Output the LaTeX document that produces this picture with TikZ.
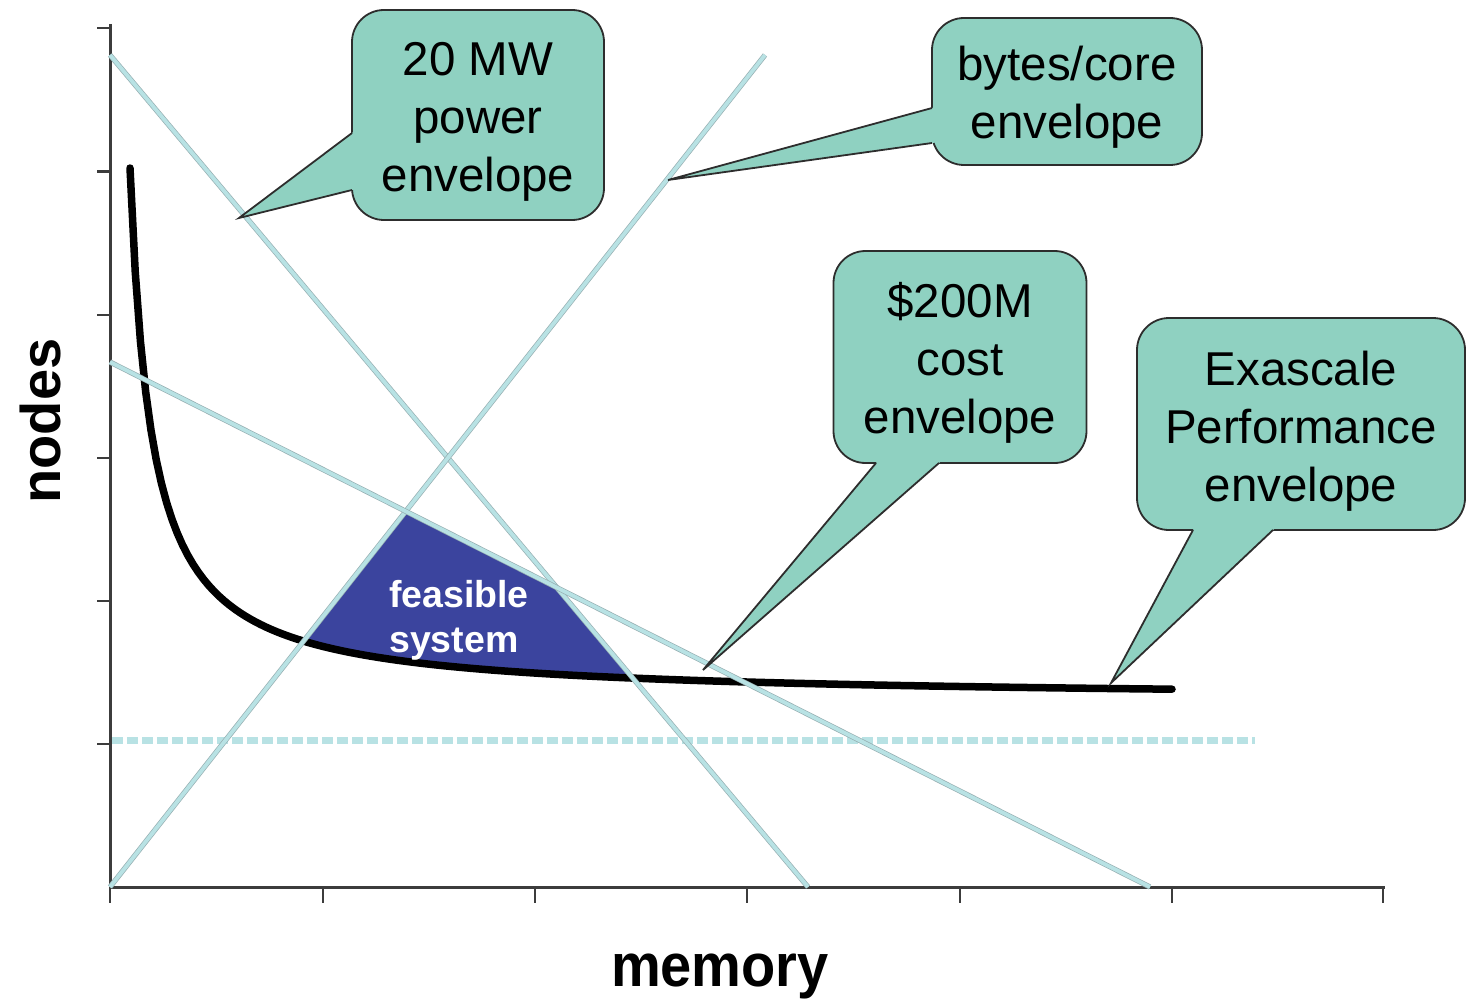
\documentclass[tikz,border=0pt]{standalone}
\usepackage{fontspec}
\setmainfont{Liberation Sans}
\usetikzlibrary{calc}
\definecolor{mint}{RGB}{143,209,193}
\definecolor{calloutline}{RGB}{45,45,45}
\definecolor{envblue}{RGB}{184,226,228}
\definecolor{envedge}{RGB}{150,175,178}
\definecolor{feasblue}{RGB}{59,68,158}
\definecolor{axisgray}{RGB}{60,60,60}
\begin{document}
\begin{tikzpicture}[x=1pt,y=-1pt,
  axisline/.style={draw=axisgray, line width=3pt},
  tickline/.style={draw=axisgray, line width=2.4pt},
  envline/.style={draw=envedge, double=envblue, double distance=3.8pt, line width=0.7pt},
  dashline/.style={draw=envblue, line width=7pt, dash pattern=on 11pt off 4pt},
  curveline/.style={draw=black, line width=7.5pt, line cap=round},
  callout/.style={draw=calloutline, line width=1.8pt, fill=mint, rounded corners=32pt, inner sep=0pt},
  callouttext/.style={align=center, inner sep=0pt, font=\fontsize{47.5}{58}\selectfont},
  tailfill/.style={fill=mint},
  taildraw/.style={draw=calloutline, line width=1.8pt},
  axislabel/.style={font=\bfseries\fontsize{56}{60}\selectfont}]
\useasboundingbox (0,0) rectangle (1468,1006);

% feasible region
\fill[feasblue] (405.8,511.3) -- (556.9,587.7) -- (632.7,678.2)
  -- plot[domain=632.7:303.8, samples=60] (\x, {700 - 11491/(\x-108.4)}) -- cycle;

% axes
\draw[axisline] (110,24) -- (110,887) -- (1385,887);
\foreach \yy in {28,171.5,314.7,458,601,744}
  \draw[tickline] (97,\yy) -- (110,\yy);
\foreach \xx in {110,323,535,747,960,1172,1383}
  \draw[tickline] (\xx,887) -- (\xx,903);

% cost curve
\draw[curveline] plot[domain=130:1172, samples=200] (\x, {700 - 11491/(\x-108.4)});

% envelope lines
\draw[dashline] (112,740) -- (1255,740);
\draw[envline] (110,55) -- (808,887);
\draw[envline] (110,887) -- (765,55);
\draw[envline] (110,362) -- (1150,887);

% feasible label
\node[font=\bfseries\fontsize{37.5}{45}\selectfont, text=white, align=left] (feas) at (459,620) {feasible\\system};

% callouts
\node[callout, minimum width=252pt, minimum height=210pt] (c1) at (478,115) {};
\node[callouttext] (c1t) at ($(c1)+(0,7)$) {20 MW\\power\\envelope};
\coordinate (t1) at (239,218);
\coordinate (a1) at (352,133);
\coordinate (b1) at (352,190);
\fill[tailfill] ($(t1)!1.05!(a1)$) -- (t1) -- ($(t1)!1.05!(b1)$) -- cycle;
\draw[taildraw] (a1) -- (t1) -- (b1);

\node[callout, minimum width=270pt, minimum height=147pt] (c2) at (1067,91.5) {};
\node[callouttext] (c2t) at ($(c2)+(0,6)$) {bytes/core\\envelope};
\coordinate (t2) at (668,180);
\coordinate (a2) at (932,108);
\coordinate (b2) at (932,143);
\fill[tailfill] ($(t2)!1.03!(a2)$) -- (t2) -- ($(t2)!1.03!(b2)$) -- cycle;
\draw[taildraw] (a2) -- (t2) -- (b2);

\node[callout, minimum width=253pt, minimum height=212pt] (c3) at (960,357) {};
\node[callouttext] (c3t) at ($(c3)+(0,6)$) {\$200M\\cost\\envelope};
\coordinate (t3) at (703,670);
\coordinate (a3) at (876,463);
\coordinate (b3) at (939,463);
\fill[tailfill] ($(t3)!1.03!(a3)$) -- (t3) -- ($(t3)!1.03!(b3)$) -- cycle;
\draw[taildraw] (a3) -- (t3) -- (b3);

\node[callout, minimum width=328pt, minimum height=212pt] (c4) at (1301,424) {};
\node[callouttext] (c4t) at ($(c4)+(0,7)$) {Exascale\\Performance\\envelope};
\coordinate (t4) at (1111,683);
\coordinate (a4) at (1193,530);
\coordinate (b4) at (1273,530);
\fill[tailfill] ($(t4)!1.04!(a4)$) -- (t4) -- ($(t4)!1.04!(b4)$) -- cycle;
\draw[taildraw] (a4) -- (t4) -- (b4);

% axis labels
\node[axislabel, rotate=90] (ylab) at (40,421) {nodes};
\node[axislabel, yscale=1.08] (xlab) at (720,976) {memory};
\end{tikzpicture}
\end{document}
